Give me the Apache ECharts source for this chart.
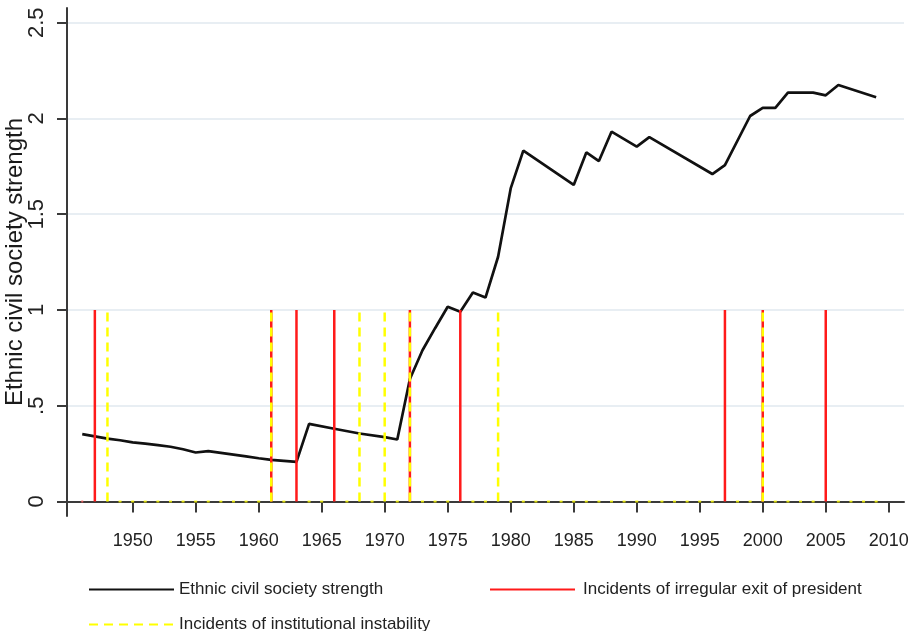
<!DOCTYPE html>
<html>
<head>
<meta charset="utf-8">
<script src="https://cdn.jsdelivr.net/npm/echarts@6/dist/echarts.min.js"></script>
<style>
  html, body { margin: 0; padding: 0; background: #fff; }
  #chart { width: 910px; height: 631px; }
</style>
</head>
<body>
<div id="chart"></div>
<script>
// Ethnic civil society strength by year
const strengthYears = [1946, 1947, 1948, 1949, 1950, 1951, 1952, 1953, 1954, 1955, 1956, 1957, 1958, 1959, 1960,
  1961, 1962, 1963, 1964, 1966, 1968, 1970, 1971, 1972, 1973, 1974, 1975, 1976, 1977, 1978, 1979, 1980,
  1981, 1985, 1986, 1987, 1988, 1990, 1991, 1996, 1997, 1999, 2000, 2001, 2002, 2004, 2005, 2006, 2009];
const strengthValues = [0.352, 0.340, 0.328, 0.320, 0.309, 0.302, 0.294, 0.286, 0.273, 0.256, 0.263, 0.254, 0.245, 0.236, 0.226,
  0.217, 0.212, 0.207, 0.405, 0.380, 0.355, 0.336, 0.324, 0.640, 0.790, 0.905, 1.017, 0.991, 1.091, 1.065, 1.278, 1.635,
  1.832, 1.653, 1.823, 1.778, 1.931, 1.853, 1.903, 1.710, 1.757, 2.013, 2.055, 2.055, 2.135, 2.135, 2.121, 2.175, 2.111];

// Incident years (marked with value 1)
const irregularExitYears = [1947, 1961, 1963, 1966, 1972, 1976, 1997, 2000, 2005];
const instabilityYears = [1948, 1961, 1968, 1970, 1972, 1979, 2000];

// Years recorded with value 0
const irregularExitZeroYears = [1946];
const instabilityZeroYears = [1949, 1950, 1951, 1952, 1953, 1954, 1955, 1956, 1957, 1958, 1959, 1960,
  1962, 1964, 1965, 1967, 1969, 1971, 1973, 1974, 1975, 1977, 1978, 1980, 1981, 1982, 1983, 1984,
  1985, 1986, 1987, 1988, 1989, 1990, 1991, 1992, 1993, 1994, 1995, 1996, 1998, 1999, 2001, 2002,
  2003, 2004, 2006, 2007, 2008, 2009];

const xTicks = [1950, 1955, 1960, 1965, 1970, 1975, 1980, 1985, 1990, 1995, 2000, 2005, 2010];
const yTicks = [0, 0.5, 1, 1.5, 2, 2.5];

const NAME_LINE = 'Ethnic civil society strength';
const NAME_EXIT = 'Incidents of irregular exit of president';
const NAME_INST = 'Incidents of institutional instability';

// vertical spikes from 0 to 1, broken by nulls between years
function spikes(years) {
  const out = [];
  years.forEach(y => { out.push([y, 0]); out.push([y, 1]); out.push([y, null]); });
  return out;
}

const FONT = '"Liberation Sans", Arial, sans-serif';
const AXIS_COLOR = '#3a3a3a';

const legendBase = {
  itemWidth: 85,
  itemHeight: 14,
  itemStyle: { opacity: 0 },
  textStyle: { fontSize: 17, color: '#222', fontFamily: FONT }
};

const chart = echarts.init(document.getElementById('chart'), null, { renderer: 'canvas' });

chart.setOption({
  animation: false,
  backgroundColor: '#ffffff',
  grid: { left: 67, right: 6, top: 8, bottom: 115, containLabel: false, outerBoundsMode: 'none' },
  xAxis: {
    type: 'value',
    min: 1944.79,
    max: 2011.21,
    axisLine: { show: true, lineStyle: { color: AXIS_COLOR, width: 2 } },
    axisTick: { show: true, length: 11, customValues: xTicks, lineStyle: { color: AXIS_COLOR, width: 2 } },
    axisLabel: {
      customValues: xTicks, margin: 16, fontSize: 18, color: '#222', fontFamily: FONT,
      formatter: v => String(v)
    },
    splitLine: { show: false }
  },
  yAxis: {
    type: 'value',
    min: -0.0757,
    max: 2.577,
    name: NAME_LINE,
    nameLocation: 'middle',
    nameRotate: 90,
    nameGap: 40,
    nameMoveOverlap: false,
    nameTextStyle: { fontSize: 24, color: '#1a1a1a', fontFamily: FONT },
    axisLine: { show: true, lineStyle: { color: AXIS_COLOR, width: 2 } },
    axisTick: { show: true, length: 10, customValues: yTicks, lineStyle: { color: AXIS_COLOR, width: 2 } },
    axisLabel: {
      customValues: yTicks,
      rotate: 90,
      margin: 19,
      fontSize: 22,
      color: '#222',
      fontFamily: FONT,
      formatter: v => (v === 0.5 ? '.5' : String(v))
    },
    splitLine: { show: true, lineStyle: { color: '#e8eef3', width: 2 } }
  },
  legend: [
    Object.assign({ data: [NAME_LINE], left: 83, top: 576 }, legendBase),
    Object.assign({ data: [NAME_EXIT], left: 484, top: 576 }, legendBase, {
      textStyle: Object.assign({}, legendBase.textStyle, { padding: [0, 0, 0, 3] })
    }),
    Object.assign({ data: [NAME_INST], left: 83, top: 611 }, legendBase)
  ],
  series: [
    {
      name: NAME_LINE,
      type: 'line',
      data: strengthYears.map((y, i) => [y, strengthValues[i]]),
      symbol: 'none',
      lineStyle: { color: '#111', width: 2.7 },
      itemStyle: { color: '#111' },
      z: 2
    },
    {
      name: NAME_EXIT,
      type: 'line',
      data: spikes(irregularExitYears),
      symbol: 'none',
      connectNulls: false,
      lineStyle: { color: '#ff1a1a', width: 2.5 },
      itemStyle: { color: '#ff1a1a' },
      z: 3
    },
    {
      name: NAME_INST,
      type: 'line',
      data: spikes(instabilityYears),
      symbol: 'none',
      connectNulls: false,
      lineStyle: { color: '#ffff00', width: 2.5, type: [9, 6] },
      itemStyle: { color: '#ffff00' },
      z: 4
    },
    {
      name: 'exit-zero',
      type: 'scatter',
      data: irregularExitZeroYears.map(y => [y, 0]),
      symbol: 'rect',
      symbolSize: [2, 2],
      itemStyle: { color: '#ff6060' },
      silent: true,
      z: 3
    },
    {
      name: 'instability-zero',
      type: 'scatter',
      data: instabilityZeroYears.map(y => [y, 0]),
      symbol: 'rect',
      symbolSize: [3, 2],
      itemStyle: { color: '#ffff00' },
      silent: true,
      z: 4
    }
  ]
});
</script>
</body>
</html>
